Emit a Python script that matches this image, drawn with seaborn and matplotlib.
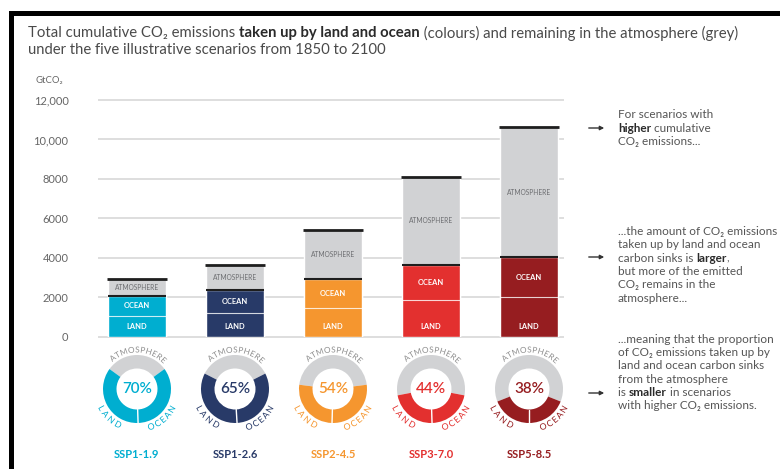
import matplotlib
matplotlib.use("Agg")
import matplotlib.pyplot as plt
import seaborn as sns
import numpy as np
import pandas as pd
from matplotlib.patches import Wedge, Rectangle, FancyArrowPatch, PathPatch
from matplotlib.textpath import TextPath, text_to_path
from matplotlib.font_manager import FontProperties
from matplotlib.transforms import Affine2D

# Cumulative CO2 emissions 1850-2100 (GtCO2) per illustrative scenario
scenarios = ["SSP1-1.9", "SSP1-2.6", "SSP2-4.5", "SSP3-7.0", "SSP5-8.5"]
total = [2910, 3640, 5420, 8120, 10610]
land = [1050, 1220, 1440, 1850, 2015]
ocean = [1020, 1150, 1490, 1770, 2015]
sink_pct = [70, 65, 54, 44, 38]
scen_colors = ["#00AED0", "#283A68", "#F5962F", "#E3302F", "#961D20"]
yticks = [0, 2000, 4000, 6000, 8000, 10000, 12000]
ytick_labels = ["0", "2000", "4000", "6000", "8000", "10,000", "12,000"]

ATM_GREY = "#D1D2D4"
TEXT = "#4a4a4a"

sns.set_style("white")
plt.rcParams["font.family"] = ["Lato", "DejaVu Sans"]

W, H = 780, 469
fig = plt.figure(figsize=(W / 100, H / 100), dpi=100)
renderer = fig.canvas.get_renderer()


def fig_xy(px, py):
    return px / W, 1 - py / H


def rich_line(x, y, parts, size, va="center"):
    """Draw a line made of (text, weight, colour) runs starting at pixel x."""
    for s, w, c in parts:
        t = fig.text(*fig_xy(x, y), s, fontsize=size, fontweight=w, color=c,
                     ha="left", va=va)
        x += t.get_window_extent(renderer).width


# frame edges
fig.add_artist(Rectangle(fig_xy(9, 16), (W - 9) / W, 5 / H, transform=fig.transFigure,
                         color="black", lw=0))
fig.add_artist(Rectangle(fig_xy(9, H), 5 / W, (H - 11) / H, transform=fig.transFigure,
                         color="black", lw=0))

# title
rich_line(28, 33, [("Total cumulative CO\u2082 emissions ", "normal", TEXT),
                   ("taken up by land and ocean", "bold", "#2a2a2a"),
                   (" (colours) and remaining in the atmosphere (grey)", "normal", TEXT)], 10.7)
rich_line(28, 50, [("under the five illustrative scenarios from 1850 to 2100", "normal", TEXT)], 10.7)
fig.text(*fig_xy(35, 80), "GtCO\u2082", fontsize=6.8, color="#666", ha="left", va="center")

# stacked bars
ax = fig.add_axes([88 / W, 1 - 336.7 / H, 490 / W, (336.7 - 100) / H])
df = pd.DataFrame({"scenario": scenarios, "total": total,
                   "land": land, "ocean": ocean})
df["sink"] = df["land"] + df["ocean"]

ax.set_xlim(-0.395, 4.354)
ax.set_ylim(0, 12000)
for v in yticks:
    ax.hlines(v, -0.395, 4.354, color="#DEDEDE", lw=1.4, zorder=0, clip_on=False)

sns.barplot(data=df, x="scenario", y="total", color=ATM_GREY, width=0.6,
            saturation=1, errorbar=None, ax=ax, zorder=2)
sns.barplot(data=df, x="scenario", y="sink", hue="scenario", palette=scen_colors,
            width=0.6, saturation=1, errorbar=None, legend=False, ax=ax, zorder=3)

hw = 0.3
for i, row in df.iterrows():
    ax.hlines(row["land"], i - hw, i + hw, color="white", lw=0.8, alpha=0.8, zorder=4)
    ax.hlines(row["sink"], i - hw, i + hw, color="#1e1e1e", lw=1.5, zorder=5)
    ax.hlines(row["total"], i - hw - 0.01, i + hw + 0.01, color="#1e1e1e", lw=2, zorder=5)
    ax.text(i, (row["sink"] + row["total"]) / 2, "ATMOSPHERE", fontsize=4.8,
            color="#6d6e71", ha="center", va="center", zorder=6)
    ax.text(i, row["land"] + row["ocean"] / 2, "OCEAN", fontsize=5.4, fontweight="bold",
            color="white", ha="center", va="center", zorder=6)
    ax.text(i, min(row["land"] / 2, 530), "LAND", fontsize=5.4, fontweight="bold",
            color="white", ha="center", va="center", zorder=6)

ax.set_yticks(yticks)
ax.set_yticklabels(ytick_labels)
ax.tick_params(axis="y", length=0, pad=14, labelsize=8, labelcolor="#666")
ax.tick_params(axis="x", length=0, labelbottom=False)
ax.set_xlabel("")
ax.set_ylabel("")
sns.despine(ax=ax, left=True, bottom=True)


def arc_text(dax, s, r, center_deg, top, size_pt, color, spacing=0.3, weight="normal"):
    """Lay the glyphs of s along a circle of radius r (axes data units are pixels)."""
    size = size_pt * 100 / 72
    prop = FontProperties(family="Lato", weight=weight, size=size)

    def width(t):
        return text_to_path.get_text_width_height_descent(t, prop, ismath=False)[0]

    prefix = [0.0] + [width(s[:k + 1]) for k in range(len(s))]
    adv = [prefix[k + 1] - prefix[k] + spacing for k in range(len(s))]
    span = sum(adv) / r
    cap = 0.72 * size
    c = np.radians(center_deg)
    cum = 0.0
    for ch, w in zip(s, adv):
        off = (cum + w / 2) / r
        if top:
            th = c + span / 2 - off
            rot = np.degrees(th) - 90
        else:
            th = c - span / 2 + off
            rot = np.degrees(th) + 90
        glyph = TextPath((0, 0), ch, size=size, prop=prop)
        tr = (Affine2D().translate(-(w - spacing) / 2, -cap / 2).rotate_deg(rot)
              .translate(r * np.cos(th), r * np.sin(th)))
        dax.add_patch(PathPatch(tr.transform_path(glyph), facecolor=color, lw=0))
        cum += w


# donuts: share of emissions taken up by sinks
R, WD = 34, 13.5
for i, (pct, col) in enumerate(zip(sink_pct, scen_colors)):
    cx = ax.transData.transform((i, 0))[0]
    cy = H - 389
    dax = fig.add_axes([(cx - 50) / W, (cy - 50) / H, 100 / W, 100 / H])
    dax.set_xlim(-50, 50)
    dax.set_ylim(-50, 50)
    dax.set_aspect("equal")
    dax.axis("off")
    a = 1 - pct / 100
    lf = land[i] / (land[i] + ocean[i])
    g0, g1 = 90 - 180 * a, 90 + 180 * a
    split = g1 + 360 * (pct / 100) * lf
    dax.add_patch(Wedge((0, 0), R, g0, g1, width=WD, color=ATM_GREY, lw=0))
    dax.add_patch(Wedge((0, 0), R, g1, split, width=WD, color=col, lw=0))
    dax.add_patch(Wedge((0, 0), R, split, g0 + 360, width=WD, color=col, lw=0))
    sr = np.radians(split)
    dax.plot([(R - WD) * np.cos(sr), R * np.cos(sr)], [(R - WD) * np.sin(sr), R * np.sin(sr)],
             color="white", lw=1)
    dax.text(0, 0, f"{pct}%", fontsize=11, color=col, ha="center", va="center",
             fontweight="semibold")
    arc_text(dax, "ATMOSPHERE", 39.5, 88, True, 5.9, "#8f8f8f", spacing=0.7)
    arc_text(dax, "LAND", 40, 226, False, 6.3, col, spacing=1.8)
    arc_text(dax, "OCEAN", 40, 310, False, 6.3, col, spacing=0.9)
    fig.text(cx / W, 1 - 454 / H, scenarios[i], fontsize=8, fontweight="bold", color=col,
             ha="center", va="center")

# explanatory notes
ANN = "#555555"
BOLD = "#2a2a2a"
notes = [
    (115, [[("For scenarios with", "normal", ANN)],
           [("higher", "bold", BOLD), (" cumulative", "normal", ANN)],
           [("CO\u2082 emissions...", "normal", ANN)]]),
    (231.7, [[("...the amount of CO\u2082 emissions", "normal", ANN)],
             [("taken up by land and ocean", "normal", ANN)],
             [("carbon sinks is ", "normal", ANN), ("larger", "bold", BOLD), (",", "normal", ANN)],
             [("but more of the emitted", "normal", ANN)],
             [("CO\u2082 remains in the", "normal", ANN)],
             [("atmosphere...", "normal", ANN)]]),
    (339.3, [[("...meaning that the proportion", "normal", ANN)],
             [("of CO\u2082 emissions taken up by", "normal", ANN)],
             [("land and ocean carbon sinks", "normal", ANN)],
             [("from the atmosphere", "normal", ANN)],
             [("is ", "normal", ANN), ("smaller", "bold", BOLD), (" in scenarios", "normal", ANN)],
             [("with higher CO\u2082 emissions.", "normal", ANN)]]),
]
for y0, lines in notes:
    for k, parts in enumerate(lines):
        rich_line(618, y0 + 13.3 * k, parts, 8.5)

for ya in [128, 257, 393]:
    fig.add_artist(FancyArrowPatch(
        fig_xy(586, ya), fig_xy(607, ya), transform=fig.transFigure,
        arrowstyle="-|>", mutation_scale=6, lw=1, color="#333333"))

fig.savefig("out.png", dpi=100)
